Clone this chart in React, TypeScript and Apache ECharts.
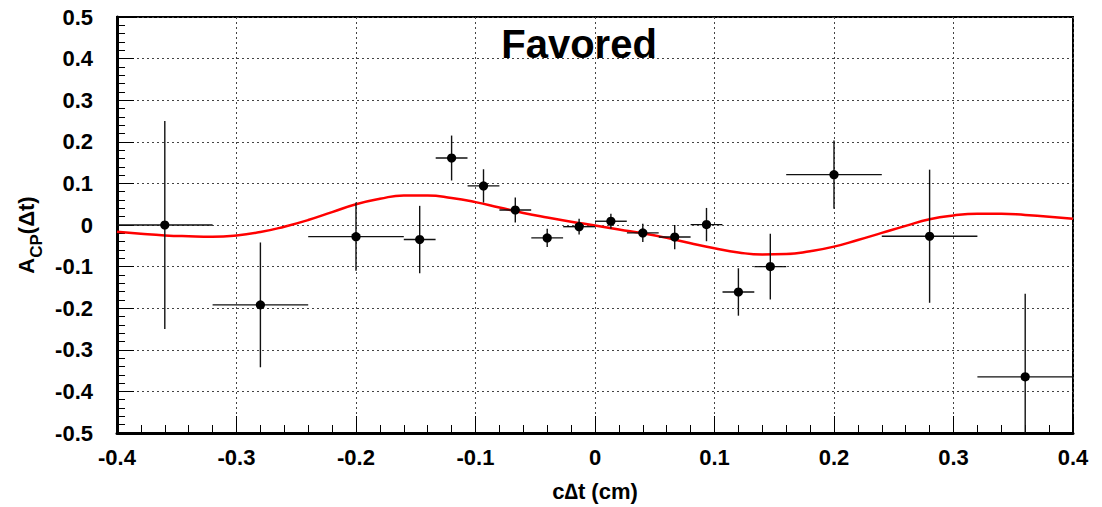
import React, { useEffect, useRef } from "react";
import * as echarts from "echarts";

// Data points (bin centres, asymmetry values, half-widths, errors)
const xCenters = [-0.36, -0.28, -0.2, -0.1467, -0.12, -0.0933, -0.0667, -0.04, -0.0133, 0.0133, 0.04, 0.0667, 0.0933, 0.12, 0.1467, 0.2, 0.28, 0.36];
const yValues = [0.0, -0.192, -0.028, -0.035, 0.161, 0.094, 0.036, -0.031, -0.004, 0.009, -0.019, -0.029, 0.001, -0.161, -0.1, 0.121, -0.027, -0.365];
const xHalfWidths = [0.04, 0.04, 0.04, 0.0133, 0.0133, 0.0133, 0.0133, 0.0133, 0.0133, 0.0133, 0.0133, 0.0133, 0.0133, 0.0133, 0.0133, 0.04, 0.04, 0.04];
const yErrors = [0.25, 0.15, 0.082, 0.081, 0.054, 0.04, 0.03, 0.022, 0.019, 0.018, 0.022, 0.029, 0.04, 0.057, 0.079, 0.082, 0.16, 0.2];

// Fit curve
const fitX = [-0.4, -0.38, -0.36, -0.34, -0.32, -0.3, -0.28, -0.26, -0.24, -0.22, -0.2, -0.18, -0.16, -0.14, -0.12, -0.1, -0.08, -0.06, -0.04, -0.02, 0.0, 0.02, 0.04, 0.06, 0.08, 0.1, 0.12, 0.14, 0.16, 0.18, 0.2, 0.22, 0.24, 0.26, 0.28, 0.3, 0.32, 0.34, 0.36, 0.38, 0.4];
const fitY = [-0.016, -0.021, -0.025, -0.027, -0.028, -0.025, -0.017, -0.004, 0.012, 0.031, 0.05, 0.063, 0.071, 0.071, 0.065, 0.055, 0.042, 0.029, 0.018, 0.008, -0.001, -0.011, -0.02, -0.031, -0.044, -0.056, -0.066, -0.071, -0.07, -0.063, -0.052, -0.036, -0.019, -0.002, 0.014, 0.023, 0.027, 0.027, 0.024, 0.02, 0.015];

const titleText = "Favored";
const xAxisTitle = "c\u2206t (cm)";

const FONT = "'Liberation Sans', Arial, Helvetica, sans-serif";

const fmt = (v: number) => {
  const r = Math.round(v * 10) / 10;
  if (Math.abs(r) < 1e-9) return "0";
  return r.toFixed(1);
};

export default function App() {
  const ref = useRef<HTMLDivElement>(null);

  useEffect(() => {
    document.body.style.margin = "0";
    if (!ref.current) return;
    const chart = echarts.init(ref.current, null, { renderer: "svg" });

    const points = xCenters.map((x, i) => [x, yValues[i], xHalfWidths[i], yErrors[i]]);
    const fit = fitX.map((x, i) => [x, fitY[i]]);

    const option: any = {
      animation: false,
      backgroundColor: "#ffffff",
      grid: {
        left: 117,
        right: 29,
        top: 17,
        bottom: 73,
        show: true,
        borderColor: "#000",
        borderWidth: 2,
        backgroundColor: "transparent",
      },
      xAxis: {
        type: "value",
        min: -0.4,
        max: 0.4,
        interval: 0.1,
        axisLine: { onZero: false, lineStyle: { color: "#000", width: 3 } },
        axisTick: { inside: true, length: 17, lineStyle: { color: "#000", width: 1 } },
        minorTick: { show: true, splitNumber: 5, length: 8, lineStyle: { color: "#000", width: 1 } },
        splitLine: { show: true, lineStyle: { color: "#444", type: [2, 3], width: 1 } },
        axisLabel: {
          margin: 13,
          formatter: fmt,
          color: "#000",
          fontSize: 22,
          fontWeight: "bold",
          fontFamily: FONT,
          showMinLabel: true,
          showMaxLabel: true,
        },
        name: xAxisTitle,
        nameLocation: "middle",
        nameGap: 47,
        nameTextStyle: { color: "#000", fontSize: 22, fontWeight: "bold", fontFamily: FONT },
      },
      yAxis: {
        type: "value",
        min: -0.5,
        max: 0.5,
        interval: 0.1,
        axisLine: { onZero: false, lineStyle: { color: "#000", width: 3 } },
        axisTick: { inside: true, length: 17, lineStyle: { color: "#000", width: 1 } },
        minorTick: { show: true, splitNumber: 5, length: 8, lineStyle: { color: "#000", width: 1 } },
        splitLine: { show: true, lineStyle: { color: "#444", type: [2, 3], width: 1 } },
        axisLabel: {
          margin: 24,
          formatter: fmt,
          color: "#000",
          fontSize: 22,
          fontWeight: "bold",
          fontFamily: FONT,
          padding: [4, 0, 0, 0],
          showMinLabel: true,
          showMaxLabel: true,
        },
      },
      graphic: [
        {
          type: "text",
          x: 579,
          y: 44,
          z: 10,
          style: {
            text: titleText,
            fill: "#000",
            font: `bold 40px ${FONT}`,
            align: "center",
            verticalAlign: "middle",
          },
        },
        {
          type: "text",
          x: 26,
          y: 235,
          rotation: Math.PI / 2,
          style: {
            text: "{a|A}{s|CP}{a|(\u0394t)}",
            align: "center",
            verticalAlign: "middle",
            fill: "#000",
            rich: {
              a: { fontSize: 22, fontWeight: "bold", fontFamily: FONT, lineHeight: 38, verticalAlign: "middle", fill: "#000" },
              s: { fontSize: 17, fontWeight: "bold", fontFamily: FONT, lineHeight: 17, verticalAlign: "bottom", fill: "#000" },
            },
          },
        },
      ],
      series: [
        {
          type: "line",
          data: fit,
          smooth: true,
          symbol: "none",
          clip: true,
          lineStyle: { color: "#ff0000", width: 2.5 },
          z: 2,
        },
        {
          type: "custom",
          data: points,
          clip: true,
          z: 3,
          renderItem: (params: any, api: any) => {
            const x = api.value(0);
            const y = api.value(1);
            const ex = api.value(2);
            const ey = api.value(3);
            const c = api.coord([x, y]);
            const l = api.coord([x - ex, y]);
            const r = api.coord([x + ex, y]);
            const t = api.coord([x, y + ey]);
            const b = api.coord([x, y - ey]);
            const ls = { stroke: "#111", lineWidth: 1.4 };
            return {
              type: "group",
              children: [
                { type: "line", shape: { x1: l[0], y1: l[1], x2: r[0], y2: r[1] }, style: ls },
                { type: "line", shape: { x1: t[0], y1: t[1], x2: b[0], y2: b[1] }, style: ls },
                { type: "circle", shape: { cx: c[0], cy: c[1], r: 4.6 }, style: { fill: "#000" } },
              ],
            };
          },
        },
      ],
    };

    chart.setOption(option);
    return () => {
      chart.dispose();
    };
  }, []);

  return <div ref={ref} style={{ width: 1102, height: 507 }} />;
}
